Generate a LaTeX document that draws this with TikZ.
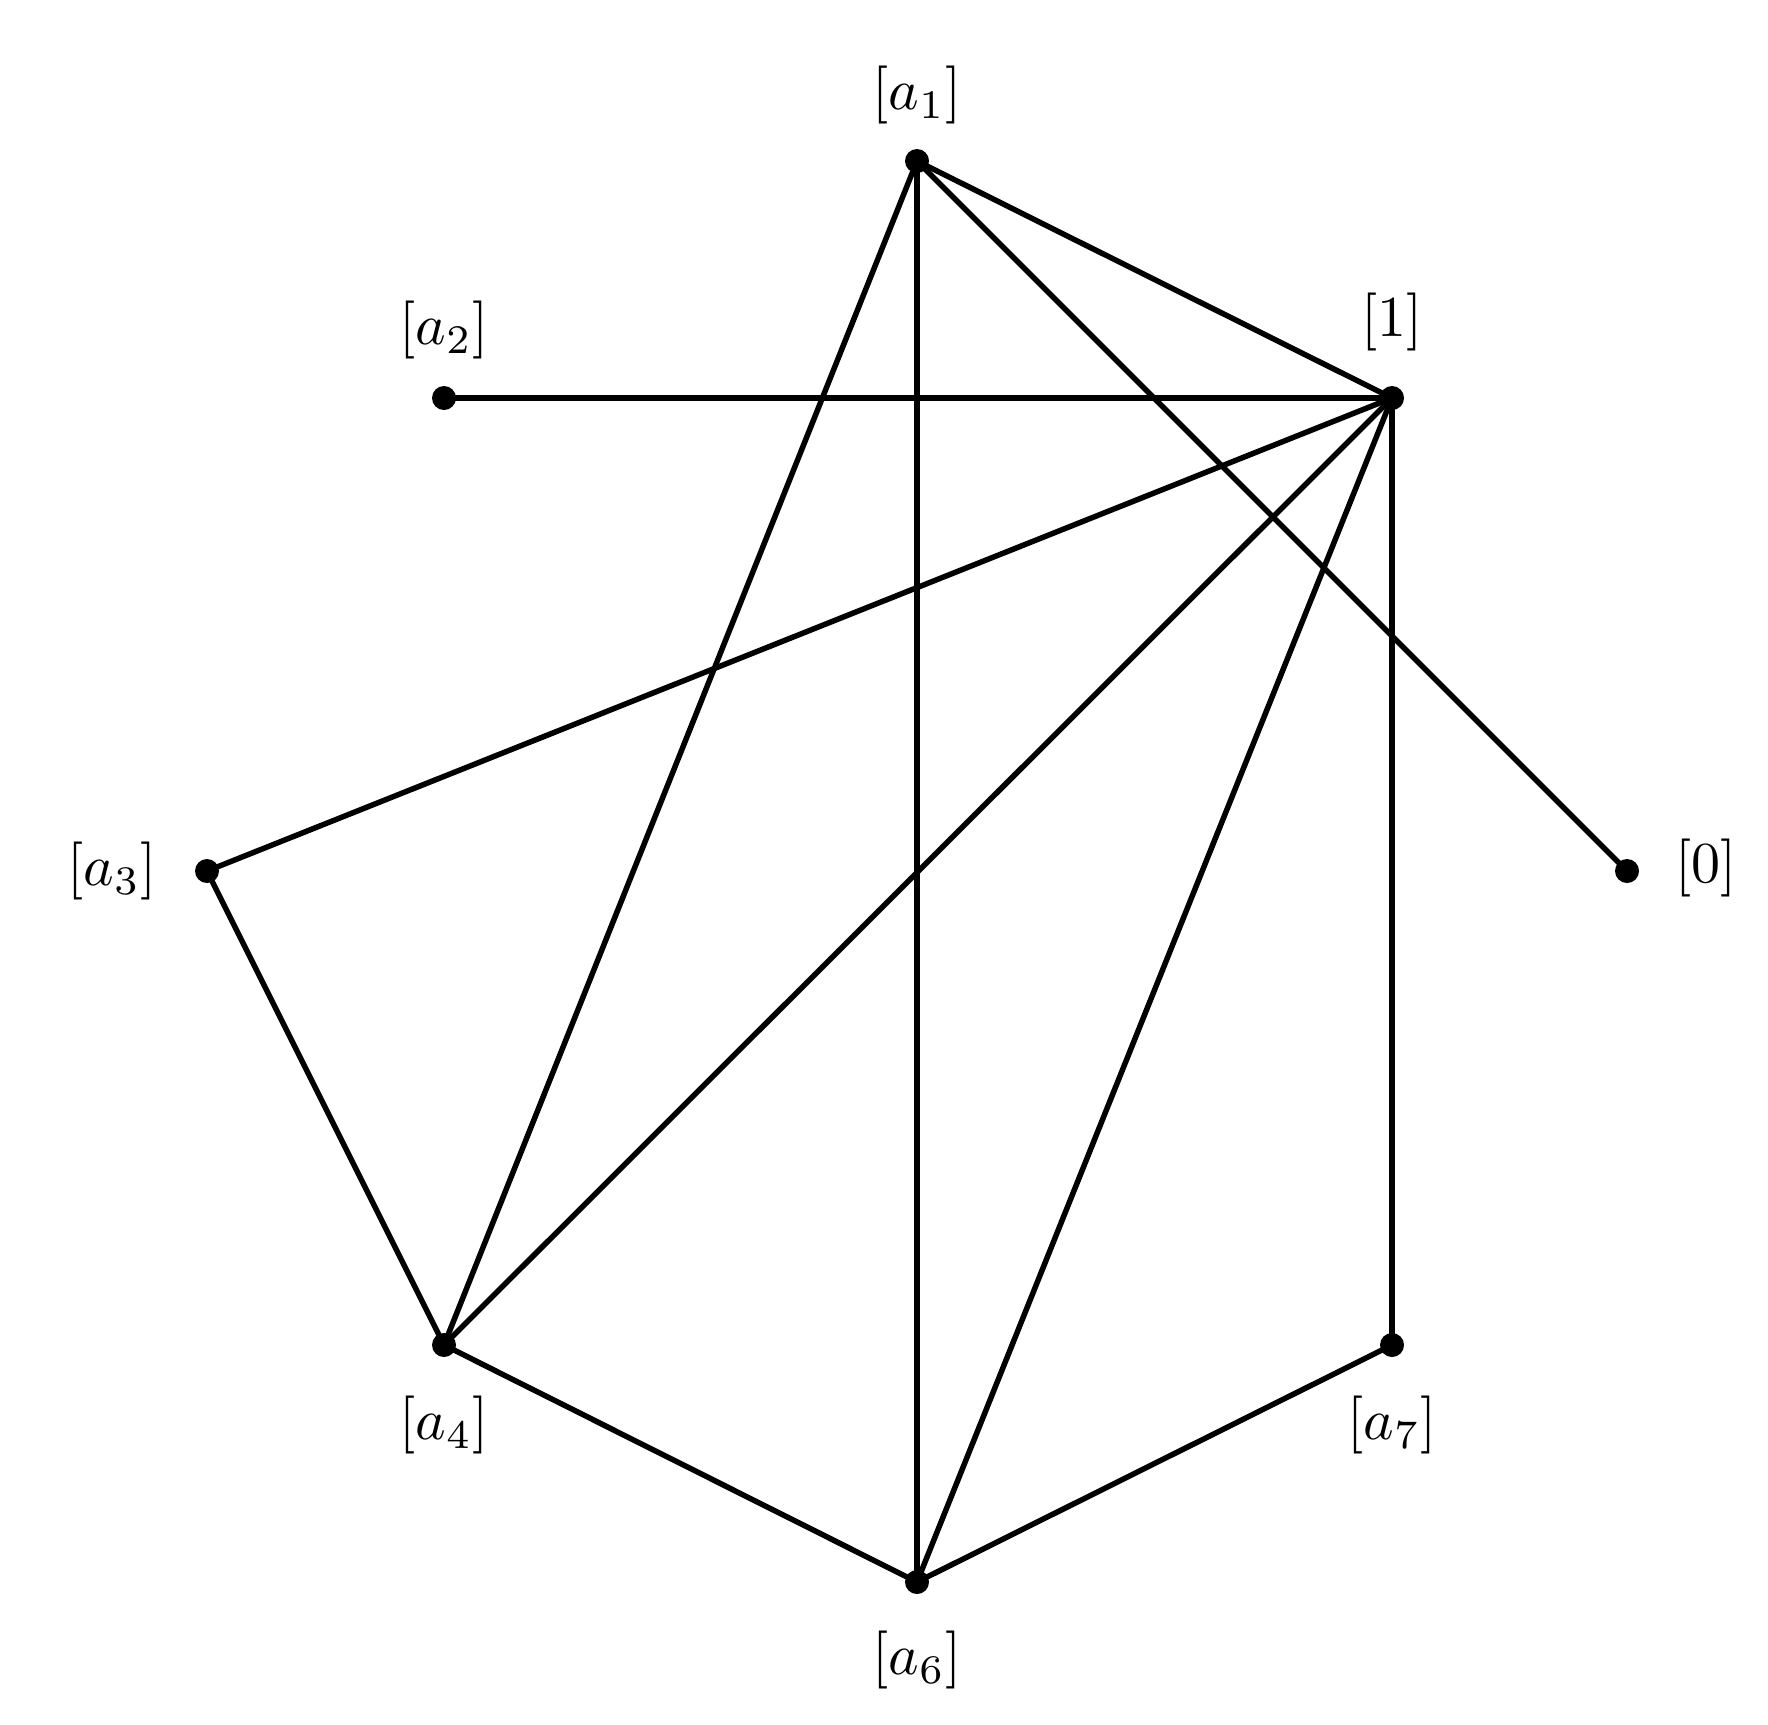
\documentclass[tikz,border=0pt]{standalone}
\begin{document}
\begin{tikzpicture}[x=1pt,y=-1pt,
  dot/.style={circle,fill=black,inner sep=0pt,minimum size=24pt},
  lbl/.style={inner sep=0pt,scale=5.8},
  edge/.style={line width=5.5pt}]
\useasboundingbox (0,0) rectangle (1768,1724);
\node[dot] (a1) at (917,161) {};
\node[dot] (one) at (1392,398) {};
\node[dot] (a2) at (444,398) {};
\node[dot] (a3) at (207,871) {};
\node[dot] (zero) at (1627,871) {};
\node[dot] (a4) at (444,1345) {};
\node[dot] (a7) at (1392,1345) {};
\node[dot] (a6) at (917,1582) {};
\node[lbl] (la1) at (917,95) {$[a_1]$};
\node[lbl] (lone) at (1392,322) {$[1]$};
\node[lbl] (la2) at (444,330) {$[a_2]$};
\node[lbl] (la3) at (112,871) {$[a_3]$};
\node[lbl] (lzero) at (1706,868) {$[0]$};
\node[lbl] (la4) at (444,1425) {$[a_4]$};
\node[lbl] (la7) at (1392,1425) {$[a_7]$};
\node[lbl] (la6) at (917,1660) {$[a_6]$};
\foreach \u/\v in {a1/one,a1/a4,a1/a6,a1/zero,a2/one,one/a3,one/a4,one/a6,one/a7,a3/a4,a4/a6,a6/a7}
  \draw[edge] (\u.center) -- (\v.center);
\end{tikzpicture}
\end{document}
